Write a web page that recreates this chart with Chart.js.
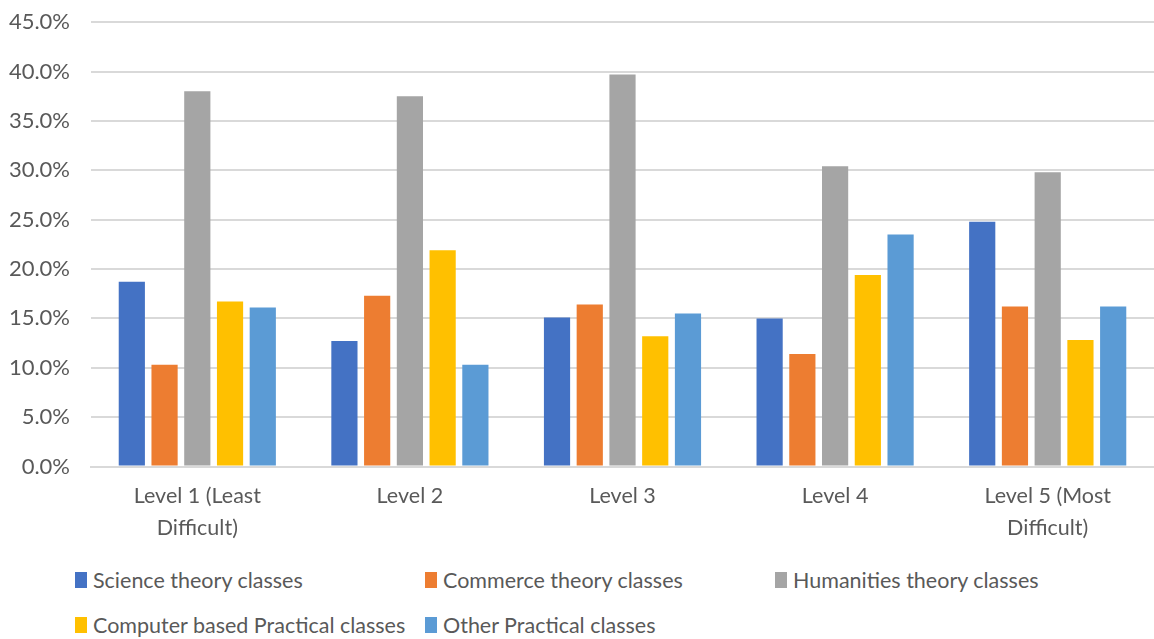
<!DOCTYPE html>
<html>
<head>
<meta charset="utf-8">
<script src="https://cdn.jsdelivr.net/npm/chart.js@4.4.1/dist/chart.umd.min.js"></script>
<style>
  body { margin: 0; background: #fff; font-family: Lato, "Open Sans", sans-serif; overflow: hidden; }
  #wrap { position: absolute; left: 0; top: -12px; width: 1154px; height: 561px; }
  #legend { position: absolute; left: 75px; top: 557px; width: 1080px; }
  .row { display: flex; height: 45px; align-items: center; }
  .item { width: 350px; display: flex; align-items: center; font-size: 21.5px; color: #595959; white-space: nowrap; }
  .box { width: 12px; height: 16px; margin-right: 6px; }
</style>
</head>
<body>
<div id="wrap"><canvas id="barChart"></canvas></div>
<div id="legend"></div>
<script>
// niveles de dificultad
const categorias = [['Level 1 (Least', 'Difficult)'], 'Level 2', 'Level 3', 'Level 4', ['Level 5 (Most', 'Difficult)']];
const yTicks = [0, 5, 10, 15, 20, 25, 30, 35, 40, 45];

const ciencias = [18.7, 12.7, 15.1, 15.0, 24.8];
const comercio = [10.3, 17.3, 16.4, 11.4, 16.2];
const humanidades = [38.0, 37.5, 39.7, 30.4, 29.8];
const computacion = [16.7, 21.9, 13.2, 19.4, 12.8];
const otrasPracticas = [16.1, 10.3, 15.5, 23.5, 16.2];

const series = [
    { label: 'Science theory classes', data: ciencias, color: '#4472C4' },
    { label: 'Commerce theory classes', data: comercio, color: '#ED7D31' },
    { label: 'Humanities theory classes', data: humanidades, color: '#A5A5A5' },
    { label: 'Computer based Practical classes', data: computacion, color: '#FFC000' },
    { label: 'Other Practical classes', data: otrasPracticas, color: '#5B9BD5' }
];

const ctx = document.getElementById('barChart').getContext('2d');
new Chart(ctx, {
    type: 'bar',
    data: {
        labels: categorias,
        datasets: series.map(s => ({
            label: s.label,
            data: s.data,
            backgroundColor: s.color,
            borderWidth: 0,
            categoryPercentage: 0.77,
            barPercentage: 0.8
        }))
    },
    options: {
        responsive: true,
        maintainAspectRatio: false,
        animation: false,
        layout: { padding: { left: 0, right: 0, top: 0, bottom: 0 } },
        plugins: {
            legend: { display: false },
            tooltip: { enabled: false }
        },
        scales: {
            x: {
                grid: { display: false },
                border: { color: '#d9d9d9', width: 2 },
                ticks: {
                    color: '#595959',
                    font: { family: 'Lato', size: 21.5, lineHeight: 1.5 },
                    maxRotation: 0,
                    padding: 5
                }
            },
            y: {
                min: 0,
                max: 45,
                afterBuildTicks: axis => { axis.ticks = yTicks.map(v => ({ value: v })); },
                afterFit: axis => { axis.width = 91; },
                grid: { color: '#d9d9d9', lineWidth: 2, drawTicks: false },
                border: { display: false },
                ticks: {
                    color: '#595959',
                    font: { family: 'Lato', size: 22 },
                    padding: 21,
                    callback: v => v.toFixed(1) + '%'
                }
            }
        }
    }
});

// leyenda en columnas fijas
const legend = document.getElementById('legend');
const filas = [series.slice(0, 3), series.slice(3)];
filas.forEach(fila => {
    const row = document.createElement('div');
    row.className = 'row';
    fila.forEach(s => {
        const item = document.createElement('div');
        item.className = 'item';
        item.innerHTML = '<span class="box" style="background:' + s.color + '"></span>' + s.label;
        row.appendChild(item);
    });
    legend.appendChild(row);
});
</script>
</body>
</html>
